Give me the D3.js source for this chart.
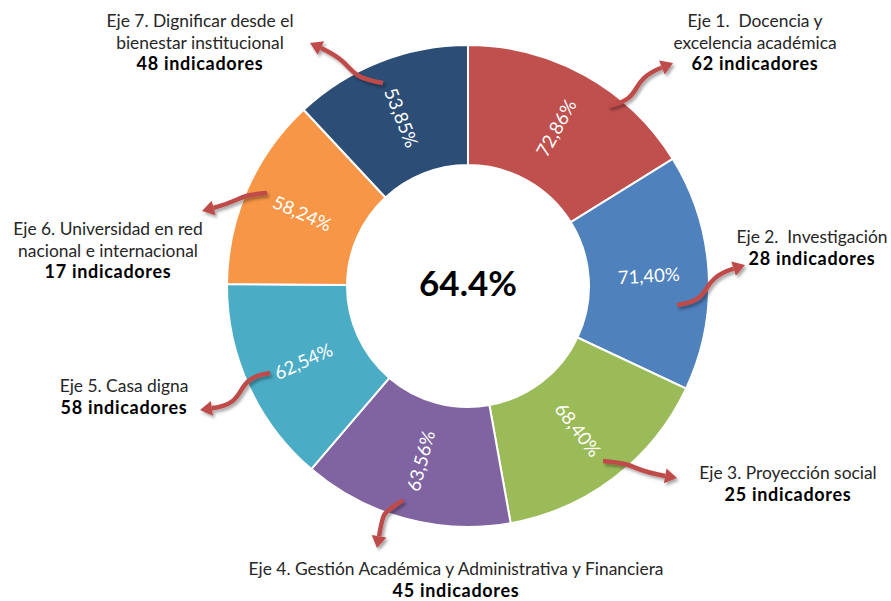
<!DOCTYPE html>
<html>
<head>
<meta charset="utf-8">
<script src="https://cdn.jsdelivr.net/npm/d3@7/dist/d3.min.js"></script>
<style>
  body { margin: 0; background: #fff; }
  svg { font-family: Lato, "Open Sans", sans-serif; }
</style>
</head>
<body>
<script>
// datos por eje
var ejes = [
  ["Eje 1.  Docencia y", "excelencia académica"],
  ["Eje 2.  Investigación"],
  ["Eje 3. Proyección social"],
  ["Eje 4. Gestión Académica y Administrativa y Financiera"],
  ["Eje 5. Casa digna"],
  ["Eje 6. Universidad en red", "nacional e internacional"],
  ["Eje 7. Dignificar desde el", "bienestar institucional"]
];
var indicadores = [62, 28, 25, 45, 58, 17, 48];
var avance = [72.86, 71.40, 68.40, 63.56, 62.54, 58.24, 53.85];
var colores = ["#C0504D", "#4F81BD", "#9BBB59", "#8064A2", "#4BACC6", "#F79646", "#2C4D75"];

// posicion de las etiquetas externas (primera linea base, centro)
var etiquetaPos = [[755, 27], [812, 243], [788, 479], [456, 575], [124, 392], [108, 235], [200, 27]];
// flechas: inicio y punta relativos al centro, direccion inicial y final (grados)
var flechas = [
  { s: [140, -180], t: [205, -223], a0: -12, a1: -22 },
  { s: [209, 19],   t: [277, -21],  a0: -8,  a1: -18 },
  { s: [135, 175],  t: [209, 192],  a0: 5,   a1: 10 },
  { s: [-65, 214],  t: [-91, 262],  a0: 145, a1: 100 },
  { s: [-198, 87],  t: [-268, 124], a0: 172, a1: 172 },
  { s: [-201, -93], t: [-266, -75], a0: 175, a1: 165 },
  { s: [-85, -203], t: [-158, -243], a0: 190, a1: 205 }
];

var width = 891, height = 601;
var cx = 468, cy = 286;
var rExt = 241, rInt = 121;

var svg = d3.select("body").append("svg")
    .attr("width", width)
    .attr("height", height);

var defs = svg.append("defs");
var sombra = defs.append("filter").attr("id", "sombra")
    .attr("x", "-30%").attr("y", "-30%").attr("width", "160%").attr("height", "160%");
sombra.append("feDropShadow")
    .attr("dx", 2).attr("dy", 2.5).attr("stdDeviation", 1.6)
    .attr("flood-color", "#000").attr("flood-opacity", 0.35);

var g = svg.append("g").attr("transform", "translate(" + cx + "," + cy + ")");

var pie = d3.pie().sort(null).value(function(d) { return d; });
var arc = d3.arc().innerRadius(rInt).outerRadius(rExt);
var arcs = pie(avance);

g.selectAll("path.slice")
  .data(arcs)
  .enter().append("path")
    .attr("class", "slice")
    .attr("d", arc)
    .attr("fill", function(d, i) { return colores[i]; })
    .attr("stroke", "#fff")
    .attr("stroke-width", 2);

// porcentajes dentro de cada sector
var fmt = d3.format(".2f");
g.selectAll("text.pct")
  .data(arcs)
  .enter().append("text")
    .attr("class", "pct")
    .attr("text-anchor", "middle")
    .attr("dominant-baseline", "central")
    .attr("fill", "#fff")
    .style("font-size", "18.5px")
    .attr("transform", function(d) {
      var c = arc.centroid(d);
      var mid = (d.startAngle + d.endAngle) / 2 * 180 / Math.PI;
      var rot = mid < 180 ? mid - 90 : mid - 270;
      return "translate(" + c[0] + "," + c[1] + ") rotate(" + rot + ")";
    })
    .text(function(d) { return fmt(d.data).replace(".", ",") + "%"; });

// total al centro
g.append("text")
    .attr("text-anchor", "middle")
    .attr("dominant-baseline", "central")
    .attr("y", -4)
    .style("font-size", "35px")
    .style("font-weight", "bold")
    .attr("fill", "#000")
    .text(d3.format(".1f")(d3.mean(avance)) + "%");

// flechas
function dir(a) { var r = a * Math.PI / 180; return [Math.cos(r), Math.sin(r)]; }
var capa = g.append("g").attr("filter", "url(#sombra)");
flechas.forEach(function(f) {
  var d0 = dir(f.a0), d1 = dir(f.a1);
  var base = [f.t[0] - 12 * d1[0], f.t[1] - 12 * d1[1]];
  var dist = Math.hypot(base[0] - f.s[0], base[1] - f.s[1]);
  var L = dist * 0.6;
  var p = d3.path();
  p.moveTo(f.s[0], f.s[1]);
  p.bezierCurveTo(f.s[0] + L * d0[0], f.s[1] + L * d0[1],
                  base[0] - L * d1[0], base[1] - L * d1[1],
                  base[0], base[1]);
  capa.append("path")
      .attr("d", p.toString())
      .attr("fill", "none")
      .attr("stroke", "#BE4B48")
      .attr("stroke-width", 4.5);
  var n = [-d1[1], d1[0]];
  capa.append("path")
      .attr("d", "M" + f.t[0] + "," + f.t[1] +
                 "L" + (base[0] + 7.5 * n[0]) + "," + (base[1] + 7.5 * n[1]) +
                 "L" + (base[0] - 7.5 * n[0]) + "," + (base[1] - 7.5 * n[1]) + "Z")
      .attr("fill", "#BE4B48");
});

// etiquetas externas
ejes.forEach(function(lineas, i) {
  var t = svg.append("text")
      .attr("text-anchor", "middle")
      .attr("x", etiquetaPos[i][0])
      .attr("y", etiquetaPos[i][1])
      .attr("fill", "#262626")
      .style("font-size", "17.4px")
      .style("white-space", "pre");
  lineas.forEach(function(l, j) {
    t.append("tspan")
        .attr("x", etiquetaPos[i][0])
        .attr("dy", j == 0 ? 0 : 21.5)
        .text(l);
  });
  t.append("tspan")
      .attr("x", etiquetaPos[i][0])
      .attr("dy", lineas.length ? 21.5 : 0)
      .style("font-weight", "bold")
      .attr("fill", "#000")
      .style("font-size", "18px")
      .style("letter-spacing", "0.7px")
      .text(indicadores[i] + " indicadores");
});
</script>
</body>
</html>
